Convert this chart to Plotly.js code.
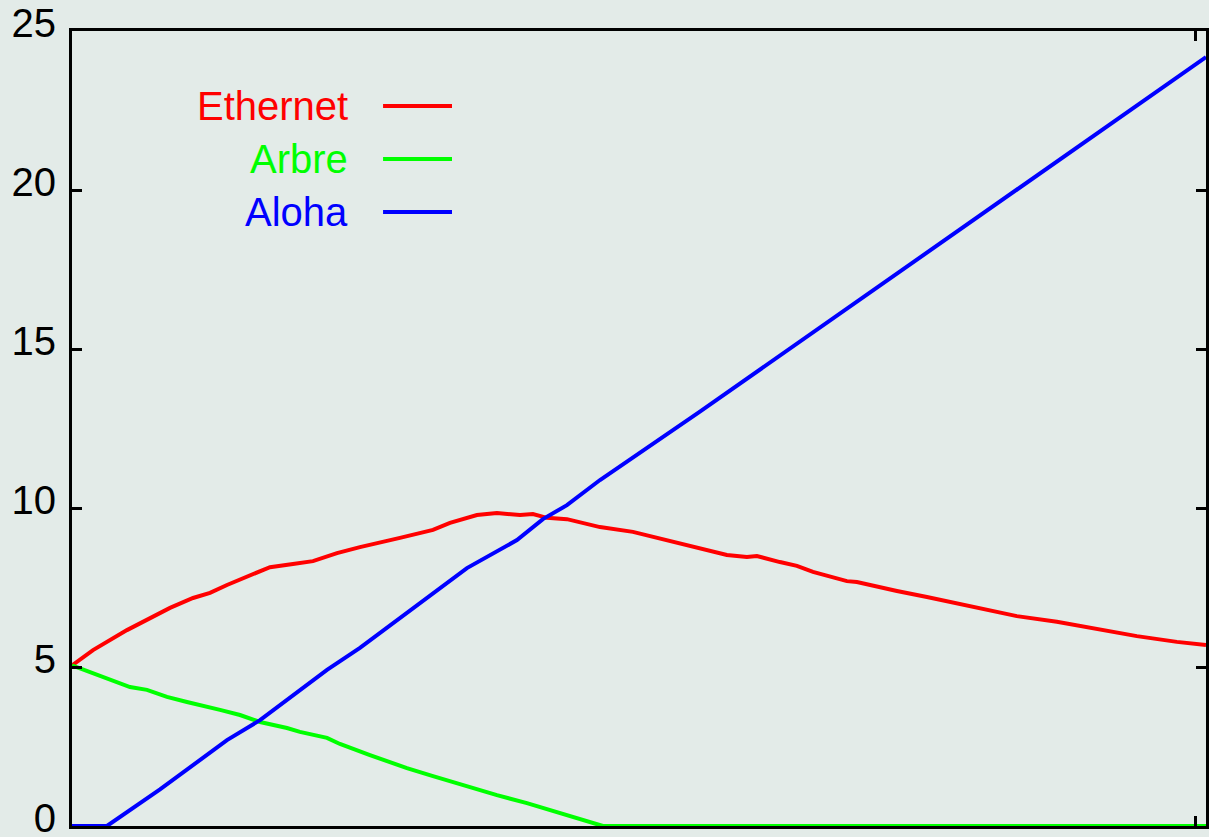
<!DOCTYPE html>
<html>
<head>
<meta charset="utf-8">
<script src="https://cdn.plot.ly/plotly-3.0.1.min.js"></script>
<style>html,body{margin:0;padding:0;background:#e3ebe8;}</style>
</head>
<body>
<div id="chart" style="width:1209px;height:837px;"></div>
<script>
// Series names
const seriesNames = ["Ethernet", "Arbre", "Aloha"];
const seriesColors = ["#ff0000", "#00ff00", "#0000ff"];

// Ethernet
const ethernetX = [0, 1.87, 4.89, 6.67, 8.72, 10.77, 12.28, 13.79, 15.57, 17.62, 19.66, 21.44, 23.58, 25.62, 29.18, 32.12, 33.63, 36.03, 37.81, 39.86, 41.01, 42.26, 44.04, 45.20, 46.98, 49.91, 52.94, 55.87, 58.27, 60.05, 60.94, 62.99, 64.50, 65.93, 67.44, 68.95, 69.84, 71.26, 73.40, 76.07, 78.74, 80.78, 84.07, 87.63, 91.46, 94.75, 98.31, 100.9];
const ethernetY = [5.05, 5.53, 6.16, 6.48, 6.86, 7.17, 7.33, 7.58, 7.83, 8.14, 8.24, 8.33, 8.58, 8.77, 9.06, 9.31, 9.53, 9.78, 9.84, 9.78, 9.81, 9.69, 9.65, 9.56, 9.40, 9.25, 8.99, 8.74, 8.52, 8.46, 8.49, 8.30, 8.18, 7.99, 7.83, 7.70, 7.67, 7.55, 7.39, 7.20, 7.01, 6.86, 6.60, 6.42, 6.19, 5.97, 5.79, 5.69];

// Arbre
const arbreX = [0, 1.87, 3.38, 5.16, 6.67, 8.45, 10.23, 11.39, 13.17, 14.95, 16.73, 19.13, 20.28, 22.69, 23.84, 26.51, 29.80, 32.12, 35.68, 37.81, 40.48, 43.15, 45.46, 47.24, 60, 80, 100.9];
const arbreY = [5.05, 4.81, 4.59, 4.37, 4.28, 4.06, 3.90, 3.81, 3.65, 3.49, 3.27, 3.08, 2.96, 2.77, 2.58, 2.23, 1.82, 1.57, 1.19, 0.97, 0.72, 0.44, 0.19, 0, 0, 0, 0];

// Aloha
const alohaX = [0, 3.11, 7.83, 13.79, 16.73, 19.66, 22.69, 25.62, 31.58, 35.14, 39.59, 41.90, 44.04, 46.98, 55.87, 64.77, 73.67, 82.56, 92.97, 100.9];
const alohaY = [0, 0, 1.15, 2.70, 3.33, 4.12, 4.91, 5.60, 7.17, 8.11, 8.99, 9.65, 10.09, 10.88, 13.03, 15.23, 17.43, 19.63, 22.20, 24.18];

// Axis ticks
const yTickVals = [0, 5, 10, 15, 20, 25];
const yTickText = ["0", "5", "10", "15", "20", "25"];
const xTickVals = [100];

const xs = [ethernetX, arbreX, alohaX];
const ys = [ethernetY, arbreY, alohaY];

const traces = seriesNames.map((n, i) => ({
  type: "scatter", mode: "lines", name: n,
  x: xs[i], y: ys[i],
  line: {color: seriesColors[i], width: 4},
  showlegend: false, hoverinfo: "skip"
}));

const bg = "#e3ebe8";
const legendRowsY = [0.9057, 0.839, 0.7723];
const annotations = seriesNames.map((n, i) => ({
  xref: "paper", yref: "paper", x: 0.2452, y: legendRowsY[i],
  xanchor: "right", yanchor: "middle", showarrow: false,
  text: n, font: {family: "Liberation Sans, Arial, sans-serif", size: 40, color: seriesColors[i]}
}));
const shapes = seriesNames.map((n, i) => ({
  type: "line", xref: "paper", yref: "paper",
  x0: 0.2743, x1: 0.3351, y0: legendRowsY[i], y1: legendRowsY[i],
  line: {color: seriesColors[i], width: 4}
}));

const layout = {
  width: 1209, height: 837,
  margin: {l: 72, r: 3, t: 31, b: 11, pad: 0},
  paper_bgcolor: bg, plot_bgcolor: bg,
  font: {family: "Liberation Sans, Arial, sans-serif", size: 40, color: "#000"},
  showlegend: false,
  xaxis: {
    range: [0, 100.9], showgrid: false, zeroline: false,
    showline: true, linecolor: "#000", linewidth: 3, mirror: "ticks",
    ticks: "inside", ticklen: 10, tickwidth: 3, tickcolor: "#000",
    tickvals: xTickVals, showticklabels: false
  },
  yaxis: {
    range: [0, 25], showgrid: false, zeroline: false,
    showline: true, linecolor: "#000", linewidth: 3, mirror: "ticks",
    ticks: "inside", ticklen: 10, tickwidth: 3, tickcolor: "#000",
    tickvals: yTickVals, ticktext: yTickText,
    tickfont: {family: "Liberation Sans, Arial, sans-serif", size: 40, color: "#000"},
    ticklabelstandoff: 5, ticklabeloverflow: "allow", ticklabelshift: -8
  },
  annotations: annotations,
  shapes: shapes
};

Plotly.newPlot("chart", traces, layout, {displayModeBar: false, staticPlot: true});
</script>
</body>
</html>
